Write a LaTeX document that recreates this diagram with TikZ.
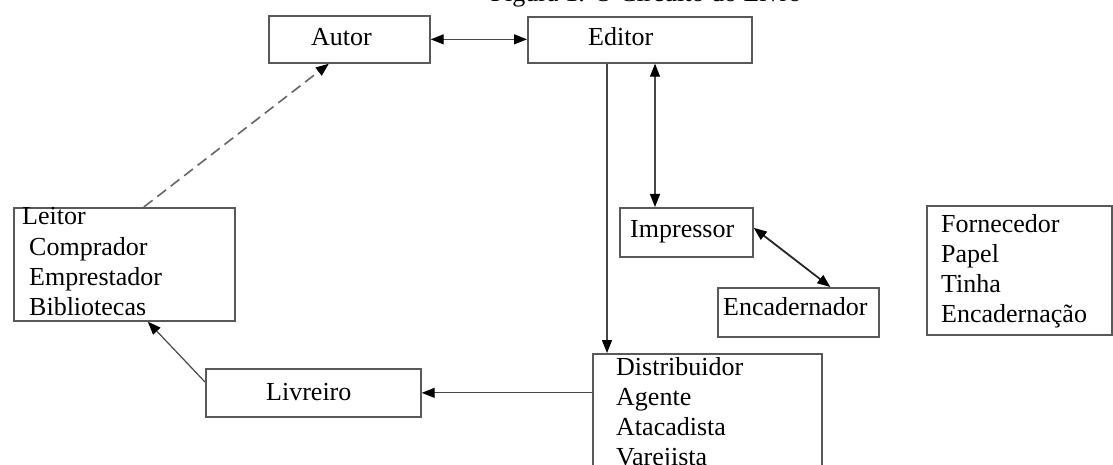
\documentclass[tikz,border=0pt]{standalone}
\usepackage{fontspec}
\setmainfont{Liberation Serif}
\usetikzlibrary{arrows.meta,calc}
\begin{document}
\begin{tikzpicture}[x=1pt,y=-1pt,
  box/.style={draw=black!65, line width=1.7pt, rectangle, inner sep=0pt, anchor=north west},
  lbl/.style={anchor=base west, inner sep=0pt, font=\fontsize{26}{30}\selectfont},
  link/.style={draw=black!72, line width=1.2pt},
  flow/.style={link, -{Triangle[length=13pt,width=10pt,color=black]}},
  both/.style={link, {Triangle[length=13pt,width=10pt,color=black]}-{Triangle[length=13pt,width=10pt,color=black]}}]
\useasboundingbox (0,0) rectangle (1113,465);
\clip (0,0) rectangle (1113,465);
\fill[white] (0,0) rectangle (1113,465);

% caption above the chart
\node[anchor=base, inner sep=0pt, font=\fontsize{26}{30}\selectfont] (caption) at (646,2) {Figura 1: O Circuito do Livro};

% boxes
\node[box, minimum width=161pt, minimum height=47pt] (autor) at (268,15) {};
\node[box, minimum width=224pt, minimum height=46pt] (editor) at (527,16) {};
\node[box, minimum width=133pt, minimum height=49pt] (impressor) at (619,207) {};
\node[box, minimum width=161pt, minimum height=49pt] (encad) at (717,287) {};
\node[box, minimum width=185pt, minimum height=129pt] (fornec) at (926,205) {};
\node[box, minimum width=221pt, minimum height=113pt] (leitor) at (13,207) {};
\node[box, minimum width=215pt, minimum height=48pt] (livreiro) at (205,368) {};
\node[box, minimum width=229pt, minimum height=140pt] (distrib) at (592,353) {};

% texts
\node[lbl] (tAutor) at (311,46) {Autor};
\node[lbl] (tEditor) at (588,46) {Editor};
\node[lbl] (tImpressor) at (630,237) {Impressor};
\node[lbl] (tEncad) at (723,315) {Encadernador};
\node[lbl] (tLivreiro) at (266,400) {Livreiro};

\node[lbl] (tLeitor) at (22,225) {Leitor};
\node[lbl] (tComprador) at (29,255) {Comprador};
\node[lbl] (tEmprestador) at (29,285) {Emprestador};
\node[lbl] (tBibliotecas) at (29,315) {Bibliotecas};

\node[lbl] (tFornecedor) at (941,232) {Fornecedor};
\node[lbl] (tPapel) at (941,262) {Papel};
\node[lbl] (tTinha) at (941,292) {Tinha};
\node[lbl] (tEncadernacao) at (941,322) {Encadernação};

\node[lbl] (tDistribuidor) at (616,375) {Distribuidor};
\node[lbl] (tAgente) at (616,405) {Agente};
\node[lbl] (tAtacadista) at (616,435) {Atacadista};
\node[lbl] (tVarejista) at (616,465) {Varejista};

% connectors
\draw[both] (autor.east) -- (autor.east -| editor.west);
\coordinate (edDown) at ([xshift=80pt]editor.south west);
\draw[flow] (edDown) -- (edDown |- distrib.north);
\coordinate (edPrint) at ([xshift=128pt]editor.south west);
\draw[both] (edPrint) -- (edPrint |- impressor.north);
\draw[both, line width=1.8pt, draw=black!85] ([yshift=4.5pt]impressor.east) -- ([xshift=32pt]encad.north);
\draw[flow] (livreiro.east -| distrib.west) -- (livreiro.east);
\draw[flow] ([yshift=-14pt]livreiro.north west) -- ([xshift=23.5pt]leitor.south);
\draw[flow, dashed, dash pattern=on 11pt off 6pt, line width=1.6pt, draw=black!60]
  ([xshift=19.5pt]leitor.north) -- ([xshift=-20.5pt]autor.south);
\end{tikzpicture}
\end{document}
